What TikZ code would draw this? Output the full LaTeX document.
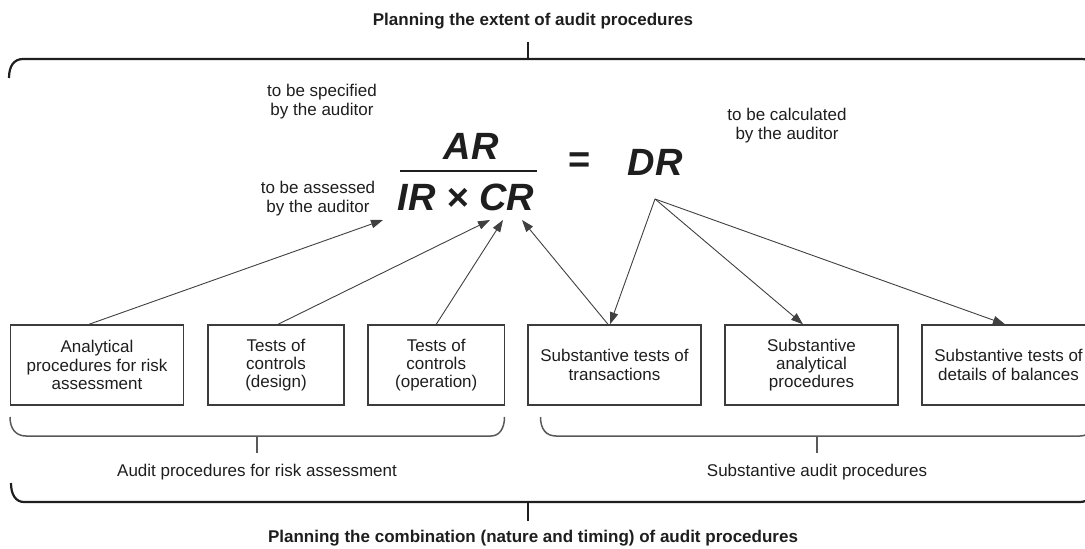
\documentclass[tikz,border=0pt]{standalone}
\usepackage{fontspec}
\setmainfont{Liberation Sans}
\usetikzlibrary{arrows.meta}
\definecolor{txt}{HTML}{1E1E1E}
\definecolor{boxline}{HTML}{3C3C3C}
\begin{document}
\begin{tikzpicture}[x=0.5pt,y=-0.5pt,
  every node/.style={inner sep=0pt, text=txt},
  proc/.style={draw=boxline, line width=0.7pt, minimum height=40pt, align=center,
    font=\fontsize{8.5}{9.1}\selectfont},
  note/.style={align=center, font=\fontsize{8.5}{9.5}\selectfont},
  caption/.style={font=\fontsize{8.5}{10}\selectfont},
  title/.style={font=\bfseries\fontsize{8.5}{10}\selectfont},
  formula/.style={font=\bfseries\itshape\fontsize{19}{22}\selectfont},
  bigbrace/.style={line width=1.1pt, draw=black!88},
  smallbrace/.style={line width=0.75pt, draw=black!65},
  link/.style={line width=0.45pt, draw=black!75, -{Triangle[length=6pt,width=4.2pt]}}
]
\clip (0,0) rectangle (1085,549);

% titles
\node[title] (top) at (533,21) {Planning the extent of audit procedures};
\node[title] (bottom) at (533,538) {Planning the combination (nature and timing) of audit procedures};

% outer braces
\draw[bigbrace] (9,78) .. controls (9,66) and (14,59) .. (23,59) -- (1082,59)
  .. controls (1091,59) and (1096,66) .. (1096,78);
\coordinate (toptick) at (528,59);
\draw[bigbrace] (toptick) -- (528,42);
\draw[bigbrace] (11,483) .. controls (11,495) and (16,502) .. (24,502) -- (1080,502)
  .. controls (1089,502) and (1094,495) .. (1094,483);
\coordinate (bottick) at (528,502);
\draw[bigbrace] (bottick) -- (528,521);

% the risk equation
\node[formula] (ar) at (471,146.5) {AR};
\node[formula] (ircr) at (466,197.5) {IR × CR};
\draw[line width=1.2pt, draw=txt] (400,171) -- (537,171);
\node[formula, font=\bfseries\fontsize{19}{22}\selectfont] (eq) at (580,162.5) {=};
\node[formula] (dr) at (655,162.5) {DR};

% side notes
\node[note] (spec) at (322,101.5) {to be specified\\by the auditor};
\node[note] (calc) at (787,125.5) {to be calculated\\by the auditor};
\node[note] (assess) at (318,199) {to be assessed\\by the auditor};

% procedures
\node[proc, minimum width=86.75pt] (b1) at (97,365) {Analytical\\procedures for risk\\assessment};
\node[proc, minimum width=68pt] (b2) at (276,365) {Tests of\\controls\\(design)};
\node[proc, minimum width=68.25pt] (b3) at (436.25,365) {Tests of\\controls\\(operation)};
\node[proc, minimum width=86.5pt] (b4) at (614.5,365) {Substantive tests of\\transactions};
\node[proc, minimum width=86.5pt] (b5) at (811.5,365) {Substantive\\analytical\\procedures};
\node[proc, minimum width=86.5pt] (b6) at (1008.5,365) {Substantive tests of\\details of balances};

% group braces
\draw[smallbrace] (10,417) .. controls (10,429) and (16,436) .. (26,436) -- (491,436)
  .. controls (499,436) and (504.5,429) .. (504.5,417);
\draw[smallbrace] (257,436) -- (257,453);
\draw[smallbrace] (540.5,417) .. controls (540.5,429) and (546,436) .. (556,436) -- (1080,436)
  .. controls (1089,436) and (1095,429) .. (1095,417);
\draw[smallbrace] (817,436) -- (817,453);
\node[caption] (riskgrp) at (257,472) {Audit procedures for risk assessment};
\node[caption] (subgrp) at (817,472) {Substantive audit procedures};

% connectors
\coordinate (t1) at (383,220);
\coordinate (t2) at (490,220);
\coordinate (t3) at (503,220);
\coordinate (t4) at (522,220);
\coordinate (apex) at (655,199);
\draw[link] ([xshift=-4pt]b1.north) -- (t1);
\draw[link] ([xshift=1pt]b2.north) -- (t2);
\draw[link] (b3.north) -- (t3);
\draw[link] ([xshift=-3.25pt]b4.north) -- (t4);
\draw[link] (apex) -- ([xshift=-2.25pt]b4.north);
\draw[link] (apex) -- ([xshift=-4.25pt]b5.north);
\draw[link] (apex) -- ([xshift=-1.75pt]b6.north);
\end{tikzpicture}
\end{document}
